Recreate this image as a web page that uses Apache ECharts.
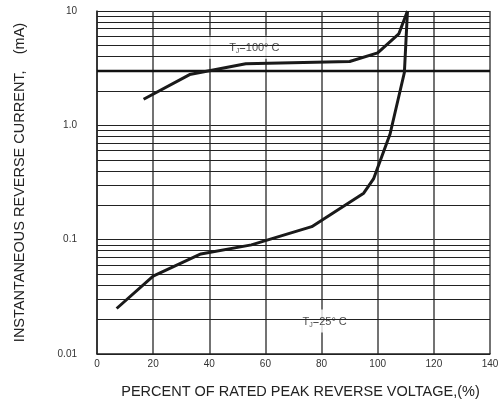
<!DOCTYPE html>
<html>
<head>
<meta charset="utf-8">
<script src="https://cdn.jsdelivr.net/npm/echarts@6/dist/echarts.min.js"></script>
<style>
  html, body { margin: 0; padding: 0; background: #fff; }
  #chart { width: 503px; height: 404px; }
</style>
</head>
<body>
<div id="chart"></div>
<script>
// percent of rated peak reverse voltage
const volt25 = [7, 20, 37, 55, 76.5, 95, 98.5, 104.4, 109.5, 110.6];
const curr25 = [0.025, 0.048, 0.075, 0.09, 0.13, 0.255, 0.34, 0.84, 2.9, 10];
const volt100 = [16.6, 33, 53, 90, 100, 107.5, 110.6];
const curr100 = [1.69, 2.78, 3.45, 3.62, 4.3, 6.3, 10];

// log paper minor lines
const minorLines = [0.02, 0.03, 0.04, 0.05, 0.06, 0.07, 0.08, 0.09,
  0.2, 0.3, 0.4, 0.5, 0.6, 0.7, 0.8, 0.9,
  2, 4, 5, 6, 7, 8, 9];
const thickLines = [3];

const yTickLabels = { 10: "10", 1: "1.0", 0.1: "0.1", 0.01: "0.01" };

const chart = echarts.init(document.getElementById("chart"));
const font = "Liberation Sans, Arial, sans-serif";

const pairs = (xs, ys) => xs.map((x, i) => [x, ys[i]]);

const option = {
  animation: false,
  backgroundColor: "#fff",
  textStyle: { fontFamily: font },
  grid: { left: 97, top: 11, right: 13, bottom: 48, containLabel: false },
  xAxis: {
    type: "value",
    min: 0,
    max: 140,
    interval: 20,
    name: "PERCENT OF RATED PEAK REVERSE VOLTAGE,(%)",
    nameLocation: "middle",
    nameGap: 30,
    nameTextStyle: { fontSize: 14.5, color: "#222", fontFamily: font, padding: [0, 0, 0, 14] },
    axisLine: { lineStyle: { color: "#222", width: 1.5 } },
    axisTick: { show: false },
    axisLabel: { fontSize: 10, color: "#333", margin: 5, fontFamily: font },
    splitLine: { show: true, lineStyle: { color: "#444", width: 1.5 } }
  },
  yAxis: {
    type: "log",
    logBase: 10,
    min: 0.01,
    max: 10,
    name: "INSTANTANEOUS REVERSE CURRENT,    (mA)",
    nameLocation: "middle",
    nameGap: 70,
    nameTextStyle: { fontSize: 14.5, color: "#222", fontFamily: font },
    axisLine: { show: true, lineStyle: { color: "#222", width: 1.5 } },
    axisTick: { show: false },
    axisLabel: {
      fontSize: 10,
      color: "#333",
      margin: 20,
      fontFamily: font,
      formatter: v => yTickLabels[+v.toPrecision(3)] || ""
    },
    splitLine: { show: true, lineStyle: { color: "#222", width: 1.2 } }
  },
  series: [
    {
      name: "grid",
      type: "line",
      data: [],
      z: 1,
      markLine: {
        silent: true,
        symbol: ["none", "none"],
        label: { show: false },
        animation: false,
        lineStyle: { color: "#222", width: 1, type: "solid" },
        data: minorLines.map(v => ({ yAxis: v })).concat(
          thickLines.map(v => ({ yAxis: v, lineStyle: { width: 2.4, color: "#111" } }))
        )
      }
    },
    {
      name: "labels",
      type: "scatter",
      z: 3,
      symbol: "rect",
      symbolSize: 1,
      itemStyle: { color: "rgba(0,0,0,0)" },
      label: {
        show: true,
        position: "inside",
        backgroundColor: "#fff",
        color: "#222",
        rich: {
          t: { fontSize: 11, color: "#222", fontFamily: font },
          s: { fontSize: 7, color: "#222", fontFamily: font, padding: [7, 0, 0, 0] }
        }
      },
      data: [
        {
          value: [56.4, 4.83],
          label: { formatter: "{t|T}{s|J}{t|=100° C}", padding: [5, 24, 4, 22] }
        },
        {
          value: [84.3, 0.0194],
          label: { formatter: "{t|T}{s|J}{t|=25° C}", padding: [5, 21, 4, 3] }
        }
      ]
    },
    {
      name: "TJ=100",
      type: "line",
      z: 5,
      symbol: "none",
      lineStyle: { color: "#1a1a1a", width: 3 },
      data: pairs(volt100, curr100)
    },
    {
      name: "TJ=25",
      type: "line",
      z: 5,
      symbol: "none",
      lineStyle: { color: "#1a1a1a", width: 3 },
      data: pairs(volt25, curr25)
    }
  ]
};

chart.setOption(option);
</script>
</body>
</html>
